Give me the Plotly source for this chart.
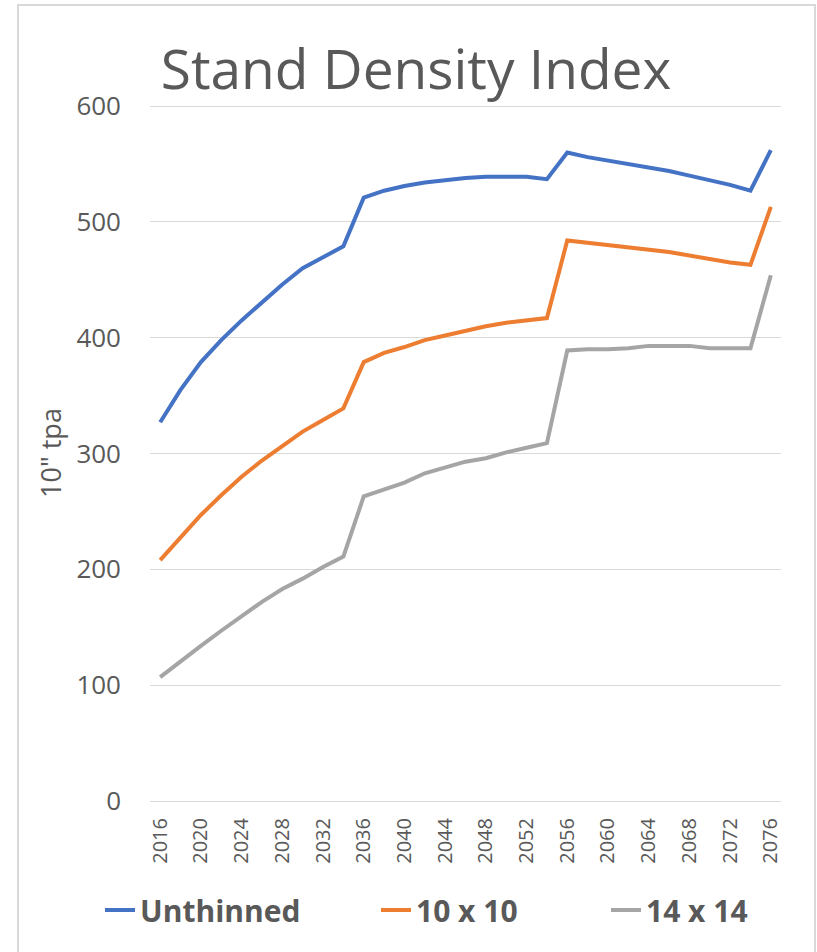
import plotly.graph_objects as go

years = list(range(2016, 2077, 2))
tick_years = list(range(2016, 2077, 4))

unthinned = [327, 355, 379, 398, 415, 431, 446, 460, 470, 479,
             521, 527, 531, 534, 536, 538, 539, 539, 539, 537,
             560, 556, 553, 550, 547, 544, 540, 536, 532, 527, 562]
ten_x_ten = [208, 228, 247, 264, 280, 294, 307, 319, 329, 339,
             379, 387, 392, 398, 402, 406, 410, 413, 415, 417,
             484, 482, 480, 478, 476, 474, 471, 468, 465, 463, 513]
fourteen_x_fourteen = [107, 121, 134, 147, 160, 172, 183, 192, 202, 211,
                       263, 269, 275, 283, 288, 293, 296, 301, 305, 309,
                       389, 390, 390, 391, 393, 393, 393, 391, 391, 391, 454]

series_names = ["Unthinned", "10 x 10", "14 x 14"]
series_values = [unthinned, ten_x_ten, fourteen_x_fourteen]
series_colors = ["#4472C4", "#ED7D31", "#A5A5A5"]
legend_ids = ["legend", "legend2", "legend3"]
legend_text_x = [142, 418, 648]   # left edge of each legend label, px

TEXT = "#595959"
GRID = "#D9D9D9"
FONT = "Open Sans"

W, H = 817, 952
L, R, T, B = 150, 36, 105, 151
pw, ph = W - L - R, H - T - B

fig = go.Figure()
for name, vals, color, lg in zip(series_names, series_values, series_colors, legend_ids):
    fig.add_trace(go.Scatter(x=years, y=vals, mode="lines", name=name,
                             legend=lg, line=dict(color=color, width=4)))

legend_common = dict(orientation="h", xref="container", yref="container",
                     xanchor="left", y=1 - 910 / H, yanchor="middle",
                     font=dict(size=30, color=TEXT, family=FONT, weight="bold"),
                     bgcolor="rgba(0,0,0,0)")
legends = {}
for lg, tx in zip(legend_ids, legend_text_x):
    legends[lg] = dict(legend_common, x=(tx - 42) / W)

fig.update_layout(
    width=W, height=H,
    margin=dict(l=L, r=R, t=T, b=B),
    paper_bgcolor="white", plot_bgcolor="white",
    font=dict(family=FONT, color=TEXT),
    title=dict(text="Stand Density Index", x=416 / W, xanchor="center",
               y=1 - 70 / H, yanchor="middle",
               font=dict(size=55, color=TEXT, family=FONT)),
    showlegend=True,
    xaxis=dict(range=[2015, 2077], tickmode="array", tickvals=tick_years,
               ticktext=[str(y) for y in tick_years], tickangle=-90,
               tickfont=dict(size=20, color=TEXT), showgrid=False,
               showline=True, linecolor=GRID, linewidth=1, ticks="",
               zeroline=False, ticklabelstandoff=8, automargin=False),
    yaxis=dict(range=[0, 601], tickvals=[0, 100, 200, 300, 400, 500, 600],
               showgrid=True, gridcolor=GRID, gridwidth=1, zeroline=False,
               showline=False, ticks="", tickfont=dict(size=26, color=TEXT),
               ticklabelstandoff=28, automargin=False,
               title=dict(text='10" tpa', font=dict(size=27, color=TEXT),
                          standoff=6)),
    shapes=[dict(type="rect", xref="paper", yref="paper",
                 x0=(18 - L) / pw, x1=(815 - L) / pw,
                 y0=-0.4, y1=(H - B - 5) / ph,
                 line=dict(color=GRID, width=2), fillcolor="rgba(0,0,0,0)",
                 layer="below")],
    **legends,
)

fig.write_html(
    "out.html",
    config={"displayModeBar": False},
    post_script="document.body.style.margin='0';document.body.style.overflow='hidden';",
)
